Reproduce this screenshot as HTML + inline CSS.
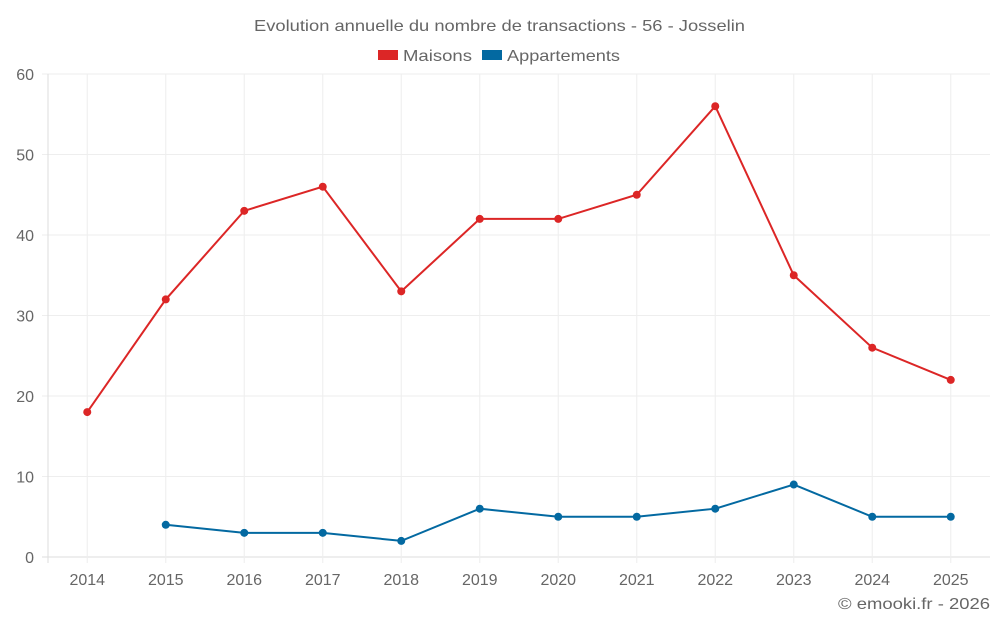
<!DOCTYPE html>
<html><head><meta charset="utf-8"><style>
body{margin:0;background:#fff;font-family:"Liberation Sans",sans-serif;}
svg text{font-family:"Liberation Sans",sans-serif;fill:#666;}
</style></head><body>
<svg id="c" width="1000" height="625">
<text x="254" y="31" font-size="16" textLength="491" lengthAdjust="spacingAndGlyphs">Evolution annuelle du nombre de transactions - 56 - Josselin</text>
<g><rect x="378" y="50" width="20" height="10" fill="#dc2626"/><text x="403" y="61" font-size="16" textLength="69" lengthAdjust="spacingAndGlyphs">Maisons</text></g>
<g><rect x="482" y="50" width="20" height="10" fill="#0369a1"/><text x="507" y="61" font-size="16" textLength="113" lengthAdjust="spacingAndGlyphs">Appartements</text></g>
<g id="grid"></g><g id="axes"></g><g id="series"></g>
<text x="838" y="609" font-size="16" textLength="152" lengthAdjust="spacingAndGlyphs">© emooki.fr - 2026</text>
</svg>
<script>
const categories=["2014","2015","2016","2017","2018","2019","2020","2021","2022","2023","2024","2025"];
const maisons=[18,32,43,46,33,42,42,45,56,35,26,22];
const appartements=[null,4,3,3,2,6,5,5,6,9,5,5];
const yTicks=[0,10,20,30,40,50,60];
const L=48,R=990,T=74,B=557,yMax=60;
const bw=(R-L)/categories.length;
const x=i=>L+(i+0.5)*bw;
const y=v=>B-(v/yMax)*(B-T);
const ns="http://www.w3.org/2000/svg";
function mk(t,a,p){const e=document.createElementNS(ns,t);for(const k in a)e.setAttribute(k,a[k]);p.appendChild(e);return e;}
const g=document.getElementById('grid'),ax=document.getElementById('axes'),s=document.getElementById('series');
yTicks.forEach(v=>{
const l=mk('line',{x1:L-6,x2:R,y1:y(v),y2:y(v),stroke:v===0?'#ddd':'#eee'},g);


const t=mk('text',{x:34,y:y(v)+6,'text-anchor':'end','font-size':16},ax);t.textContent=v;


});
mk('line',{x1:L,x2:L,y1:T,y2:B+6,stroke:'#ddd'},g);
categories.forEach((c,i)=>{
const l=mk('line',{x1:x(i),x2:x(i),y1:T,y2:B+6,stroke:'#eee'},g);


const t=mk('text',{x:x(i),y:585,'text-anchor':'middle','font-size':16},ax);t.textContent=c;


});
function draw(data,color,name){
let d='';data.forEach((v,i)=>{if(v==null)return;d+=(d?'L':'M')+x(i)+','+y(v);});
const p=mk('path',{d:d,fill:'none',stroke:color,'stroke-width':2},s);


data.forEach((v,i)=>{if(v==null)return;
const c=mk('circle',{cx:x(i),cy:y(v),r:4,fill:color},s);


});
}
draw(maisons,'#dc2626','maisons');
draw(appartements,'#0369a1','appartements');
</script>
</body></html>
